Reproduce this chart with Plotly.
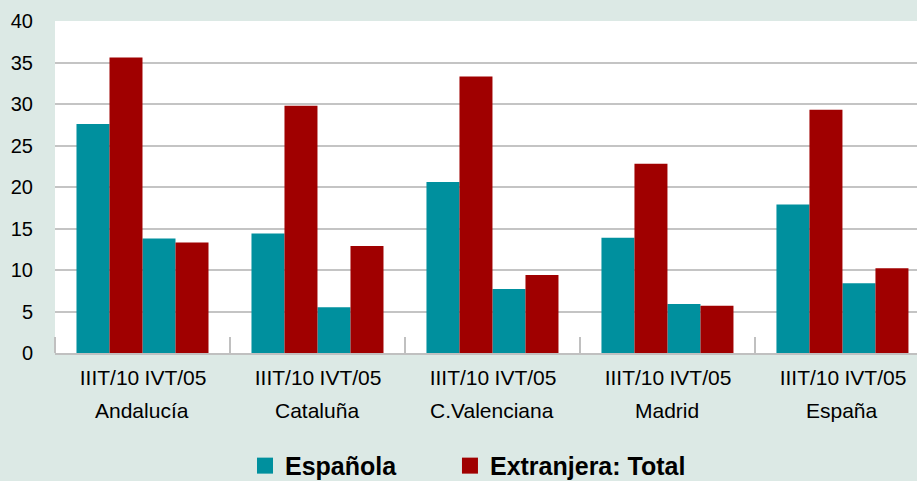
import plotly.graph_objects as go

regions = ["Andalucía", "Cataluña", "C.Valenciana", "Madrid", "España"]
periods = ["IIIT/10", "IVT/05"]
espanola = [27.6, 13.8, 14.4, 5.5, 20.6, 7.7, 13.9, 5.9, 17.9, 8.4]
extranjera = [35.6, 13.3, 29.8, 12.9, 33.3, 9.4, 22.8, 5.7, 29.3, 10.2]
y_ticks = [0, 5, 10, 15, 20, 25, 30, 35, 40]

W = 0.1886  # bar width in group units
pair_x = []
pair_labels = []
for g in range(len(regions)):
    for s, p in enumerate(periods):
        pair_x.append(g + (s - 0.5) * 2 * W)
        pair_labels.append(p)

TEAL = "#00909e"
RED = "#a00000"
FONT = "Liberation Sans, Arial, sans-serif"

fig = go.Figure()
fig.add_trace(go.Bar(x=pair_x, y=espanola, name="Española", width=W, offset=-W,
                     marker=dict(color=TEAL, line=dict(width=0)), showlegend=False))
fig.add_trace(go.Bar(x=pair_x, y=extranjera, name="Extranjera: Total", width=W, offset=0,
                     marker=dict(color=RED, line=dict(width=0)), showlegend=False))
# legend entries with larger square swatches, each in its own legend box
for name, col, lg in [("Española", TEAL, "legend"), ("Extranjera: Total", RED, "legend2")]:
    fig.add_trace(go.Scatter(x=[None], y=[None], mode="markers", name=name, legend=lg,
                             marker=dict(symbol="square", size=19, color=col)))

for g, r in enumerate(regions):
    fig.add_annotation(x=g, y=0, xref="x", yref="paper", yanchor="middle", yshift=-57,
                       text=r, showarrow=False, font=dict(size=21, color="#000", family=FONT))

legend_common = dict(orientation="h", xanchor="left", y=-0.34, yanchor="middle",
                     font=dict(size=25, color="#000", family=FONT, weight="bold"),
                     bgcolor="rgba(0,0,0,0)", itemsizing="trace", borderwidth=0)

fig.update_layout(
    width=917, height=481,
    margin=dict(l=55, r=0, t=21, b=128, autoexpand=False),
    paper_bgcolor="#dce9e5", plot_bgcolor="#ffffff",
    barmode="overlay",
    font=dict(family=FONT, size=20, color="#000"),
    showlegend=True,
    legend=dict(x=0.2204, **legend_common),
    legend2=dict(x=0.4582, **legend_common),
    xaxis=dict(range=[-0.5, 4.426], tickmode="array", tickvals=pair_x, ticktext=pair_labels,
               ticks="", showgrid=False, zeroline=False, showline=True,
               linecolor="#c0c0c0", linewidth=2, ticklabelstandoff=5,
               tickfont=dict(size=21),
               minor=dict(tickmode="array", tickvals=[-0.5, 0.5, 1.5, 2.5, 3.5],
                          ticks="inside", ticklen=16, tickwidth=2, tickcolor="#c0c0c0",
                          showgrid=False)),
    yaxis=dict(range=[0, 40], tickmode="array", tickvals=y_ticks, showgrid=True,
               gridcolor="#c4c4c4", gridwidth=2, zeroline=False, showline=False,
               ticks="", ticklabelstandoff=21, tickfont=dict(size=20)),
)

fig.write_html("out.html", config={"displayModeBar": False},
               post_script="document.body.style.margin='0';document.body.style.padding='0';")
